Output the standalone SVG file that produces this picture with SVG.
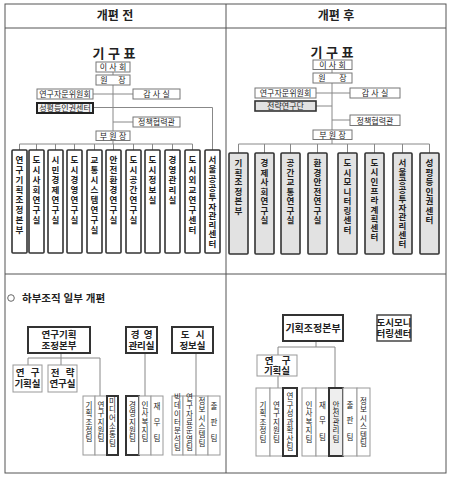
<svg xmlns="http://www.w3.org/2000/svg" width="451" height="480" viewBox="0 0 451 480">
<style>
text{font-family:'Liberation Sans','Noto Sans CJK KR',sans-serif;fill:#222;text-anchor:middle}
.frame{fill:none;stroke:#555;stroke-width:1}
.ln{fill:none;stroke:#888;stroke-width:1}
.bx{fill:#fff;stroke:#777;stroke-width:1}
.bxk{fill:#f2f2f2;stroke:#222;stroke-width:2}
.bxg{fill:#e2e2e2;stroke:#333;stroke-width:1.6}
.tb{fill:#fff;stroke:#333;stroke-width:1.6}
.tg{fill:#e2e2e2;stroke:#333;stroke-width:1.6}
.hb{fill:#fff;stroke:#333;stroke-width:2}
.hb1{fill:#fff;stroke:#444;stroke-width:1.5}
.sb{fill:#fff;stroke:#999;stroke-width:1}
.tm{fill:#fff;stroke:#999;stroke-width:1}
.tmk{fill:#fff;stroke:#333;stroke-width:2}
.tmkg{fill:#eee;stroke:#333;stroke-width:2}
.hd{font-size:12px;font-weight:bold}
.ti{font-size:13px;font-weight:bold}
.s{font-size:8px}
.v{font-size:8.5px;font-weight:bold}
.m{font-size:9.5px;font-weight:bold}
.t{font-size:7.5px}
.note{font-size:10.5px;font-weight:bold;text-anchor:start}
</style>

<g id="table">
<rect class="frame" x="5" y="4" width="441" height="469"/>
<line class="frame" x1="5" y1="28" x2="446" y2="28"/>
<line class="frame" x1="226" y1="4" x2="226" y2="473"/>
<line class="frame" x1="5" y1="274" x2="446" y2="274"/>
<text class="hd" x="115" y="20">개편 전</text>
<text class="hd" x="336" y="20">개편 후</text>
</g>

<g id="connectors">
<polyline class="ln" points="113,72 113,75"/>
<polyline class="ln" points="113,85 113,131"/>
<polyline class="ln" points="93,94 133,94"/>
<polyline class="ln" points="93,107.5 212.5,107.5 212.5,150"/>
<polyline class="ln" points="113,122 133,122"/>
<polyline class="ln" points="113,140.5 113,144"/>
<polyline class="ln" points="19.5,150 19.5,144 192.5,144 192.5,150"/>
<path class="ln" d="M36.5 144V150M55.5 144V150M74.5 144V150M94.5 144V150M113.5 144V150M133.5 144V150M152.5 144V150M172.5 144V150"/>
<polyline class="ln" points="332,69.5 332,73"/>
<polyline class="ln" points="332,83 332,130"/>
<polyline class="ln" points="316,93 350,93"/>
<polyline class="ln" points="316,106 332,106"/>
<polyline class="ln" points="332,120 350,120"/>
<polyline class="ln" points="332,139.5 332,144"/>
<polyline class="ln" points="238.5,153 238.5,144 429.5,144 429.5,153"/>
<path class="ln" d="M264.5 144V153M290.5 144V153M317.5 144V153M347.5 144V153M374.5 144V153M402.5 144V153"/>
<polyline class="ln" points="61,353 61,365"/>
<polyline class="ln" points="28,365 28,358 100,358 100,396"/>
<polyline class="ln" points="145,353 145,396"/>
<polyline class="ln" points="196,353 196,396"/>
<polyline class="ln" points="316,341 316,347"/>
<polyline class="ln" points="278,355 278,347 335,347 335,388"/>
<polyline class="ln" points="278,376 278,388"/>
</g>

<g id="before-top">
<text class="ti" x="114" y="58">기 구 표</text>
<g id="b-board"><rect class="bx" x="96" y="62" width="34" height="10"/><text class="s" x="113" y="70">이 사 회</text></g>
<g id="b-president"><rect class="bx" x="96" y="75" width="34" height="10"/><text class="s" x="104 122" y="83 83">원장</text></g>
<g id="b-advisory"><rect class="bx" x="37" y="89" width="56" height="10"/><text class="s" x="65" y="97">연구자문위원회</text></g>
<g id="b-audit"><rect class="bx" x="133" y="89" width="47" height="10"/><text class="s" x="156.5" y="97">감 사 실</text></g>
<g id="b-gender"><rect class="bxk" x="37" y="103" width="56" height="10"/><text class="s" x="65" y="111">성평등인권센터</text></g>
<g id="b-policy"><rect class="bx" x="133" y="117" width="47" height="10"/><text class="s" x="156.5" y="125">정책협력관</text></g>
<g id="b-vice"><rect class="bx" x="96" y="131" width="34" height="9.5"/><text class="s" x="113" y="139">부 원 장</text></g>

<g id="b-d1"><rect class="tb" x="12" y="150" width="15" height="103" rx="1"/><text class="v" x="19.5 19.5 19.5 19.5 19.5 19.5 19.5 19.5" y="163 173 183 193 203 213 223 233">연구기획조정본부</text></g>
<g id="b-d2"><rect class="tb" x="29" y="150" width="15" height="103" rx="1"/><text class="v" x="36.5 36.5 36.5 36.5 36.5 36.5 36.5" y="163 173 183 193 203 213 223">도시사회연구실</text></g>
<g id="b-d3"><rect class="tb" x="48" y="150" width="15" height="103" rx="1"/><text class="v" x="55.5 55.5 55.5 55.5 55.5 55.5 55.5" y="163 173 183 193 203 213 223">시민경제연구실</text></g>
<g id="b-d4"><rect class="tb" x="67" y="150" width="15" height="103" rx="1"/><text class="v" x="74.5 74.5 74.5 74.5 74.5 74.5 74.5" y="163 173 183 193 203 213 223">도시경영연구실</text></g>
<g id="b-d5"><rect class="tb" x="87" y="150" width="15" height="103" rx="1"/><text class="v" x="94.5 94.5 94.5 94.5 94.5 94.5 94.5 94.5" y="163 173 183 193 203 213 223 233">교통시스템연구실</text></g>
<g id="b-d6"><rect class="tb" x="106" y="150" width="15" height="103" rx="1"/><text class="v" x="113.5 113.5 113.5 113.5 113.5 113.5 113.5" y="163 173 183 193 203 213 223">안전환경연구실</text></g>
<g id="b-d7"><rect class="tb" x="126" y="150" width="15" height="103" rx="1"/><text class="v" x="133.5 133.5 133.5 133.5 133.5 133.5 133.5" y="163 173 183 193 203 213 223">도시공간연구실</text></g>
<g id="b-d8"><rect class="tb" x="145" y="150" width="15" height="103" rx="1"/><text class="v" x="152.5 152.5 152.5 152.5 152.5" y="163 173 183 193 203">도시정보실</text></g>
<g id="b-d9"><rect class="tb" x="165" y="150" width="15" height="103" rx="1"/><text class="v" x="172.5 172.5 172.5 172.5 172.5" y="163 173 183 193 203">경영관리실</text></g>
<g id="b-d10"><rect class="tb" x="185" y="150" width="15" height="103" rx="1"/><text class="v" x="192.5 192.5 192.5 192.5 192.5 192.5 192.5 192.5" y="163 173 183 193 203 213 223 233">도시외교연구센터</text></g>
<g id="b-d11"><rect class="tb" x="205" y="150" width="15" height="103" rx="1"/><text class="v" x="212.5 212.5 212.5 212.5 212.5 212.5 212.5 212.5 212.5 212.5" y="163 172.3 181.6 190.9 200.2 209.5 218.8 228.1 237.4 246.7">서울공공투자관리센터</text></g>
</g>

<g id="after-top">
<text class="ti" x="332" y="57">기 구 표</text>
<g id="a-board"><rect class="bx" x="313" y="60" width="39" height="9.5"/><text class="s" x="332.5" y="68">이 사 회</text></g>
<g id="a-president"><rect class="bx" x="313" y="73" width="39" height="10"/><text class="s" x="322 343" y="81 81">원장</text></g>
<g id="a-advisory"><rect class="bx" x="255" y="88" width="61" height="10"/><text class="s" x="285.5" y="96">연구자문위원회</text></g>
<g id="a-audit"><rect class="bx" x="350" y="88" width="50" height="10"/><text class="s" x="375" y="96">감 사 실</text></g>
<g id="a-strategy"><rect class="bxg" x="255" y="101" width="61" height="10"/><text class="s" x="285.5" y="109">전략연구단</text></g>
<g id="a-policy"><rect class="bx" x="350" y="115" width="50" height="10.5"/><text class="s" x="375" y="123.5">정책협력관</text></g>
<g id="a-vice"><rect class="bx" x="313" y="130" width="39" height="9.5"/><text class="s" x="332.5" y="138">부 원 장</text></g>

<g id="a-d1"><rect class="tg" x="229" y="153" width="19" height="101" rx="1"/><text class="v" x="238.5 238.5 238.5 238.5 238.5 238.5" y="166 175.5 185 194.5 204 213.5">기획조정본부</text></g>
<g id="a-d2"><rect class="tg" x="255" y="153" width="19" height="101" rx="1"/><text class="v" x="264.5 264.5 264.5 264.5 264.5 264.5 264.5" y="166 175.5 185 194.5 204 213.5 223">경제사회연구실</text></g>
<g id="a-d3"><rect class="tg" x="281" y="153" width="19" height="101" rx="1"/><text class="v" x="290.5 290.5 290.5 290.5 290.5 290.5 290.5" y="166 175.5 185 194.5 204 213.5 223">공간교통연구실</text></g>
<g id="a-d4"><rect class="tg" x="308" y="153" width="19" height="101" rx="1"/><text class="v" x="317.5 317.5 317.5 317.5 317.5 317.5 317.5" y="166 175.5 185 194.5 204 213.5 223">환경안전연구실</text></g>
<g id="a-d5"><rect class="tg" x="338" y="153" width="19" height="101" rx="1"/><text class="v" x="347.5 347.5 347.5 347.5 347.5 347.5 347.5 347.5" y="166 175.5 185 194.5 204 213.5 223 232.5">도시모니터링센터</text></g>
<g id="a-d6"><rect class="tg" x="365" y="153" width="19" height="101" rx="1"/><text class="v" x="374.5 374.5 374.5 374.5 374.5 374.5 374.5 374.5 374.5" y="166 175.3 184.6 193.9 203.2 212.5 221.8 231.1 240.4">도시인프라계획센터</text></g>
<g id="a-d7"><rect class="tg" x="393" y="153" width="19" height="101" rx="1"/><text class="v" x="402.5 402.5 402.5 402.5 402.5 402.5 402.5 402.5 402.5 402.5" y="166 175 184 193 202 211 220 229 238 247">서울공공투자관리센터</text></g>
<g id="a-d8"><rect class="tg" x="420" y="153" width="19" height="101" rx="1"/><text class="v" x="429.5 429.5 429.5 429.5 429.5 429.5 429.5" y="166 175.5 185 194.5 204 213.5 223">성평등인권센터</text></g>
</g>

<g id="note">
<circle cx="11" cy="298" r="3.3" fill="none" stroke="#555" stroke-width="0.9"/>
<text class="note" x="22" y="302">하부조직 일부 개편</text>
</g>

<g id="before-bottom">
<g id="bb-planning"><rect class="hb" x="28" y="327" width="62" height="26"/><text class="m" x="59" y="338">연구기획</text><text class="m" x="59" y="349">조정본부</text></g>
<g id="bb-mgmt"><rect class="hb" x="126" y="327" width="31" height="26"/><text class="m" x="135 148" y="338 338">경영</text><text class="m" x="141.5" y="349">관리실</text></g>
<g id="bb-info"><rect class="hb" x="172" y="327" width="41" height="26"/><text class="m" x="185 200" y="338 338">도시</text><text class="m" x="192.5" y="349">정보실</text></g>
<g id="bb-resplan"><rect class="sb" x="13" y="365" width="29" height="27"/><text class="m" x="20 35" y="376 376">연구</text><text class="m" x="27.5" y="387">기획실</text></g>
<g id="bb-strat"><rect class="sb" x="48" y="365" width="29" height="27"/><text class="m" x="55 70" y="376 376">전략</text><text class="m" x="62.5" y="387">연구실</text></g>

<g id="bt1"><rect class="tm" x="83" y="396" width="12" height="59"/><text class="t" x="89 89 89 89 89" y="408 416.3 424.6 432.9 441.2">기획조정팀</text></g>
<g id="bt2"><rect class="tm" x="95" y="396" width="12" height="59"/><text class="t" x="101 101 101 101 101" y="408 416.3 424.6 432.9 441.2">연구지원팀</text></g>
<g id="bt3"><rect class="tmk" x="107" y="396" width="11" height="59"/><text class="t" x="112.5 112.5 112.5 112.5 112.5 112.5" y="404 412.3 420.6 428.9 437.2 445.5">미디어소통팀</text></g>
<g id="bt4"><rect class="tmk" x="126" y="396" width="13" height="59"/><text class="t" x="132.5 132.5 132.5 132.5 132.5" y="408 416.3 424.6 432.9 441.2">경영지원팀</text></g>
<g id="bt5"><rect class="tm" x="139" y="396" width="12" height="59"/><text class="t" x="145 145 145 145 145" y="408 416.3 424.6 432.9 441.2">인사복지팀</text></g>
<g id="bt6"><rect class="tm" x="151" y="396" width="12" height="59"/><text class="t" x="157 157 157" y="409 425 441">재무팀</text></g>
<g id="bt7"><rect class="tm" x="172" y="396" width="11" height="59"/><text class="t" x="177.5 177.5 177.5 177.5 177.5 177.5 177.5" y="400 408.3 416.6 424.9 433.2 441.5 449.8">빅데이터분석팀</text></g>
<g id="bt8"><rect class="tm" x="183" y="396" width="13" height="59"/><text class="t" x="189.5 189.5 189.5 189.5 189.5 189.5 189.5" y="400 408.3 416.6 424.9 433.2 441.5 449.8">연구자료운영팀</text></g>
<g id="bt9"><rect class="tm" x="196" y="396" width="12" height="59"/><text class="t" x="202 202 202 202 202 202" y="404 412.3 420.6 428.9 437.2 445.5">정보시스템팀</text></g>
<g id="bt10"><rect class="tm" x="208" y="396" width="12" height="59"/><text class="t" x="214 214 214" y="409 425 441">출판팀</text></g>
</g>

<g id="after-bottom">
<g id="ab-planning"><rect class="hb" x="283" y="315" width="60" height="26"/><text class="m" x="313" y="331.5" style="font-size:10px">기획조정본부</text></g>
<g id="ab-monitor"><rect class="hb1" x="377" y="315" width="34" height="26"/><text class="m" x="394" y="326">도시모니</text><text class="m" x="394" y="337">터링센터</text></g>
<g id="ab-resplan"><rect class="sb" x="257" y="355" width="40" height="21"/><text class="m" x="269 286" y="364 364">연구</text><text class="m" x="277" y="374">기획실</text></g>

<g id="at1"><rect class="tm" x="256" y="388" width="14" height="68"/><text class="t" x="263 263 263 263 263" y="407.7 416.2 424.7 433.2 441.7">기획조정팀</text></g>
<g id="at2"><rect class="tm" x="270" y="388" width="13" height="68"/><text class="t" x="276.5 276.5 276.5 276.5 276.5" y="407.7 416.2 424.7 433.2 441.7">연구지원팀</text></g>
<g id="at3"><rect class="tmk" x="283" y="388" width="14" height="68"/><text class="t" x="290 290 290 290 290 290 290" y="399.2 407.7 416.2 424.7 433.2 441.7 450.2">연구성과확산팀</text></g>
<g id="at4"><rect class="tm" x="302" y="388" width="14" height="68"/><text class="t" x="309 309 309 309 309" y="407.7 416.2 424.7 433.2 441.7">인사복지팀</text></g>
<g id="at5"><rect class="tm" x="316" y="388" width="13" height="68"/><text class="t" x="322.5 322.5 322.5" y="408 423 440">재무팀</text></g>
<g id="at6"><rect class="tmkg" x="329" y="388" width="14" height="68"/><text class="t" x="336 336 336 336 336" y="407.7 416.2 424.7 433.2 441.7">안전관리팀</text></g>
<g id="at7"><rect class="tm" x="343" y="388" width="14" height="68"/><text class="t" x="350 350 350" y="408 423 440">출판팀</text></g>
<g id="at8"><rect class="tm" x="357" y="388" width="13" height="68"/><text class="t" x="363.5 363.5 363.5 363.5 363.5 363.5" y="403.5 412 420.5 429 437.5 446">정보시스템팀</text></g>
</g>
</svg>
